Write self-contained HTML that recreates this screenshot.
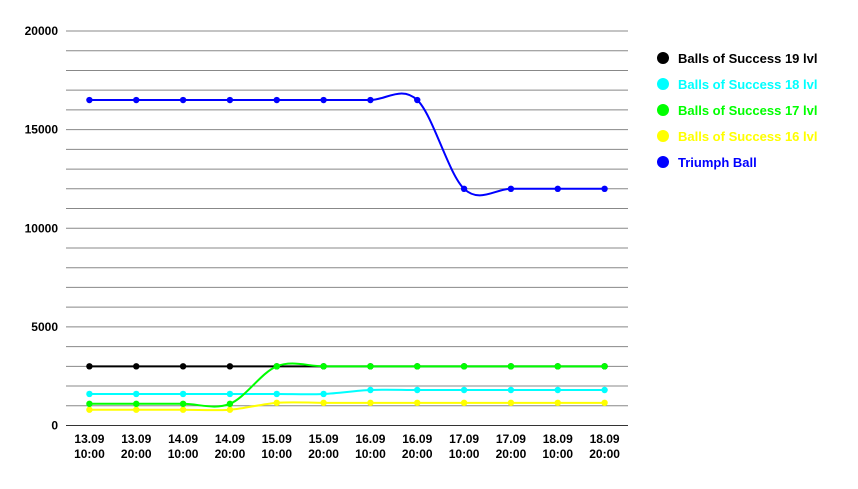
<!DOCTYPE html>
<html><head><meta charset="utf-8"><style>
body{margin:0;background:#fff;font-family:"Liberation Sans",sans-serif}
</style></head><body>
<svg id="c" width="858" height="484" xmlns="http://www.w3.org/2000/svg"></svg>
<script>
const categories=["13.09|10:00","13.09|20:00","14.09|10:00","14.09|20:00","15.09|10:00","15.09|20:00","16.09|10:00","16.09|20:00","17.09|10:00","17.09|20:00","18.09|10:00","18.09|20:00"];
const yTicks=[0,5000,10000,15000,20000];
const seriesNames=["Balls of Success 19 lvl","Balls of Success 18 lvl","Balls of Success 17 lvl","Balls of Success 16 lvl","Triumph Ball"];
const seriesColors=["#000000","#00ffff","#00ff00","#ffff00","#0000ff"];
const s19=[3000,3000,3000,3000,3000,3000,3000,3000,3000,3000,3000,3000];
const s18=[1600,1600,1600,1600,1600,1600,1800,1800,1800,1800,1800,1800];
const s17=[1100,1100,1100,1100,3000,3000,3000,3000,3000,3000,3000,3000];
const s16=[800,800,800,800,1150,1150,1150,1150,1150,1150,1150,1150];
const triumph=[16500,16500,16500,16500,16500,16500,16500,16500,12000,12000,12000,12000];
const allSeries=[s19,s18,s17,s16,triumph];
const NS="http://www.w3.org/2000/svg",svg=document.getElementById('c');
const x0=66,x1=628,yTop=31,yBot=425.5,yMax=20000;
const step=(x1-x0)/categories.length;
const X=i=>x0+step*(i+0.5);
const Y=v=>yBot-(v/yMax)*(yBot-yTop);
function mk(t,a){const e=document.createElementNS(NS,t);for(const k in a)e.setAttribute(k,a[k]);svg.appendChild(e);return e;}
for(let v=0;v<=yMax;v+=1000){
 const l=mk('line',{x1:x0,x2:x1,y1:Y(v),y2:Y(v),stroke:v===0?'#333':'#888','stroke-width':1});
 
 
}
yTicks.forEach(v=>{const t=mk('text',{x:58,y:Y(v)+4,'text-anchor':'end','font-size':12,'font-weight':'bold',fill:'#000'});t.textContent=v;
 
 });
categories.forEach((c,i)=>{const p=c.split('|');
 const t=mk('text',{x:X(i),y:443,'text-anchor':'middle','font-size':12,'font-weight':'bold',fill:'#000'});
 t.innerHTML='<tspan x="'+X(i)+'">'+p[0]+'</tspan><tspan x="'+X(i)+'" dy="15">'+p[1]+'</tspan>';
 
 });
function pathD(pts){let d='M'+pts[0][0]+','+pts[0][1];
 for(let i=0;i<pts.length-1;i++){const p0=pts[i-1]||pts[i],p1=pts[i],p2=pts[i+1],p3=pts[i+2]||p2;const k=0.5/3*1.0;
  d+=' C'+(p1[0]+(p2[0]-p0[0])*k)+','+(p1[1]+(p2[1]-p0[1])*k)+' '+(p2[0]-(p3[0]-p1[0])*k)+','+(p2[1]-(p3[1]-p1[1])*k)+' '+p2[0]+','+p2[1];}
 return d;}
[4,0,1,3,2].forEach(si=>{const data=allSeries[si],col=seriesColors[si];
 const pts=data.map((v,i)=>[X(i),Y(v)]);
 const p=mk('path',{d:pathD(pts),fill:'none',stroke:col,'stroke-width':2});
 
 
 pts.forEach(q=>{const c=mk('circle',{cx:q[0],cy:q[1],r:3.2,fill:col});
  
  });
});
seriesNames.forEach((n,i)=>{const y=58+i*26;
 const c=mk('circle',{cx:663,cy:y,r:6,fill:seriesColors[i]});
 
 
 const t=mk('text',{x:678,y:y+5,'font-size':13,'font-weight':'bold',fill:seriesColors[i]});t.textContent=n;
 
 });
</script>
</body></html>
